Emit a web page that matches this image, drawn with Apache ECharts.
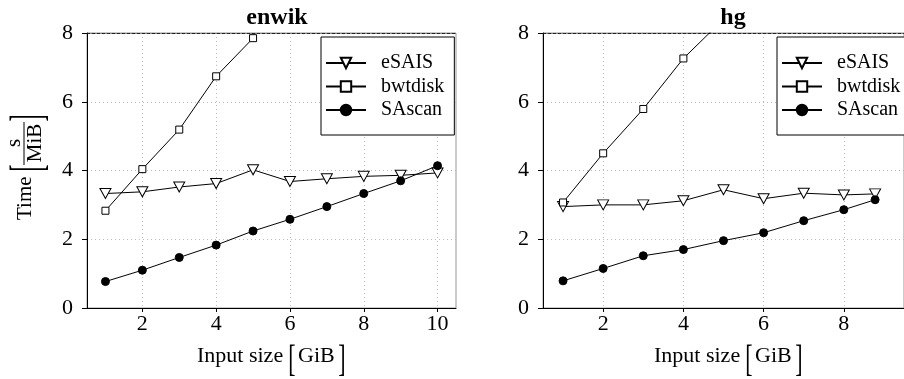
<!DOCTYPE html>
<html>
<head>
<meta charset="utf-8">
<script src="https://cdn.jsdelivr.net/npm/echarts@6/dist/echarts.min.js"></script>
<style>
  html, body { margin: 0; padding: 0; background: #fff; }
  .chart { width: 904px; height: 379px; }
</style>
</head>
<body>
<div class="chart"></div>
<script>
// data
var names = ['eSAIS', 'bwtdisk', 'SAscan'];

var enwikX = [1, 2, 3, 4, 5, 6, 7, 8, 9, 10];
var enwikESAIS = [3.33, 3.38, 3.52, 3.62, 4.02, 3.68, 3.76, 3.83, 3.86, 3.93];
var enwikBwtdisk = [2.83, 4.04, 5.19, 6.74, 7.85];
var enwikSAscan = [0.77, 1.10, 1.47, 1.83, 2.24, 2.58, 2.95, 3.33, 3.70, 4.14];

var hgX = [1, 2, 3, 4, 5, 6, 7, 8, 8.78];
var hgESAIS = [2.95, 3.00, 3.00, 3.12, 3.44, 3.18, 3.34, 3.29, 3.32];
var hgBwtdisk = [3.07, 4.50, 5.79, 7.26, 8.40];
var hgSAscan = [0.79, 1.15, 1.52, 1.70, 1.96, 2.19, 2.54, 2.86, 3.15];

var yTicks = [0, 2, 4, 6, 8];
var enwikXTicks = [2, 4, 6, 8, 10];
var hgXTicks = [2, 4, 6, 8];

var FONT = '"Liberation Serif", "Times New Roman", serif';

function pairs(xs, ys) {
    var out = [];
    for (var i = 0; i < ys.length; i++) {
        out.push([xs[i], ys[i]]);
    }
    return out;
}

function mkSeries(name, data, idx) {
    var s = {
        name: name,
        type: 'line',
        xAxisIndex: idx,
        yAxisIndex: idx,
        data: data,
        lineStyle: { color: '#000', width: 1 },
        itemStyle: { color: '#fff', borderColor: '#000', borderWidth: 1 },
        emphasis: { disabled: true },
        z: 3
    };
    if (name == 'eSAIS') {
        s.symbol = 'triangle';
        s.symbolRotate = 180;
        s.symbolSize = [11, 10];
    } else if (name == 'bwtdisk') {
        s.symbol = 'rect';
        s.symbolSize = 7;
    } else {
        s.symbol = 'circle';
        s.symbolSize = 8;
        s.itemStyle = { color: '#000', borderColor: '#000', borderWidth: 1 };
    }
    return s;
}

function mkXAxis(idx, max, ticks) {
    return {
        type: 'value', gridIndex: idx, min: 0.5, max: max, splitNumber: max - 0.5,
        axisLine: { onZero: false, lineStyle: { color: '#000', width: 1 } },
        axisTick: { length: 4, customValues: ticks, lineStyle: { color: '#000' } },
        axisLabel: { customValues: ticks, fontFamily: FONT, fontSize: 22, color: '#000', margin: 5 },
        splitLine: { show: true, lineStyle: { color: '#bbb', type: [1, 3] } }
    };
}

function mkTopAxis(idx, max) {
    return {
        type: 'value', gridIndex: idx, position: 'top', min: 0.5, max: max,
        axisLine: { onZero: false, lineStyle: { color: '#222', width: 1, type: [3, 2] } },
        axisTick: { show: false }, axisLabel: { show: false }, splitLine: { show: false }
    };
}

function mkYAxis(idx) {
    return {
        type: 'value', gridIndex: idx, min: 0, max: 8, interval: 1,
        axisLine: { show: true, onZero: false, lineStyle: { color: '#000', width: 1 } },
        axisTick: { show: true, length: 5, customValues: yTicks, lineStyle: { color: '#000' } },
        axisLabel: { customValues: yTicks, fontFamily: FONT, fontSize: 22, color: '#000', margin: 14 },
        splitLine: { show: true, lineStyle: { color: '#bbb', type: [1, 3] } }
    };
}

function mkLegend(left) {
    return {
        data: names, orient: 'vertical', left: left, top: 37,
        itemWidth: 40, itemHeight: 13, itemGap: 3.5,
        padding: [16, 10, 15, 4],
        backgroundColor: '#fff', borderColor: '#000', borderWidth: 1,
        selectedMode: false,
        textStyle: { fontFamily: FONT, fontSize: 20, color: '#000', padding: [0, 0, 0, 10] }
    };
}

function txt(s, x, y, size, align, extra) {
    var o = {
        type: 'text', x: x, y: y,
        style: { text: s, fontFamily: FONT, fontSize: size, fill: '#000', align: align, verticalAlign: 'middle' }
    };
    if (extra) {
        for (var k in extra) o[k] = extra[k];
    }
    return o;
}

// Input size [GiB]
function xName(x, y) {
    return {
        type: 'group', x: x, y: y,
        children: [
            txt('Input size', 0, 0, 22, 'left'),
            txt('[', 95, 5, 22, 'center', { scaleY: 1.75 }),
            txt('GiB', 101, 0, 22, 'left'),
            txt(']', 145, 5, 22, 'center', { scaleY: 1.75 })
        ]
    };
}

// Time [s / MiB], rotated
function yName(x, y) {
    return {
        type: 'group', x: x, y: y, rotation: Math.PI / 2,
        children: [
            txt('Time', -52, 2, 21, 'left'),
            txt('[', 0, 7, 21, 'center', { scaleY: 2.2 }),
            txt('s', 25, -9, 21, 'center'),
            { type: 'line', shape: { x1: 3, y1: 1, x2: 46, y2: 1 }, style: { stroke: '#000', lineWidth: 1 } },
            txt('MiB', 25, 12, 21, 'center'),
            txt(']', 50, 7, 21, 'center', { scaleY: 2.2 })
        ]
    };
}

var chart = echarts.init(document.querySelector('.chart'));

var option = {
    animation: false,
    backgroundColor: '#fff',
    title: [
        { text: 'enwik', left: 272, top: 1, textAlign: 'center', textStyle: { fontFamily: FONT, fontSize: 24, fontWeight: 'bold', color: '#000' } },
        { text: 'hg', left: 728, top: 1, textAlign: 'center', textStyle: { fontFamily: FONT, fontSize: 24, fontWeight: 'bold', color: '#000' } }
    ],
    grid: [
        { left: 87, top: 33, width: 369, height: 275, show: true, borderColor: '#999', borderWidth: 1, backgroundColor: 'transparent' },
        { left: 543, top: 33, width: 371, height: 275, show: true, borderColor: '#999', borderWidth: 1, backgroundColor: 'transparent' }
    ],
    xAxis: [
        mkXAxis(0, 10.5, enwikXTicks),
        mkXAxis(1, 9.5, hgXTicks),
        mkTopAxis(0, 10.5),
        mkTopAxis(1, 9.5)
    ],
    yAxis: [mkYAxis(0), mkYAxis(1)],
    legend: [mkLegend(321), mkLegend(777)],
    graphic: [
        yName(23, 168),
        xName(197, 356),
        xName(654, 356)
    ],
    series: [
        mkSeries('eSAIS', pairs(enwikX, enwikESAIS), 0),
        mkSeries('bwtdisk', pairs(enwikX, enwikBwtdisk), 0),
        mkSeries('SAscan', pairs(enwikX, enwikSAscan), 0),
        mkSeries('eSAIS', pairs(hgX, hgESAIS), 1),
        mkSeries('bwtdisk', pairs(hgX, hgBwtdisk), 1),
        mkSeries('SAscan', pairs(hgX, hgSAscan), 1)
    ]
};

chart.setOption(option);
</script>
</body>
</html>
